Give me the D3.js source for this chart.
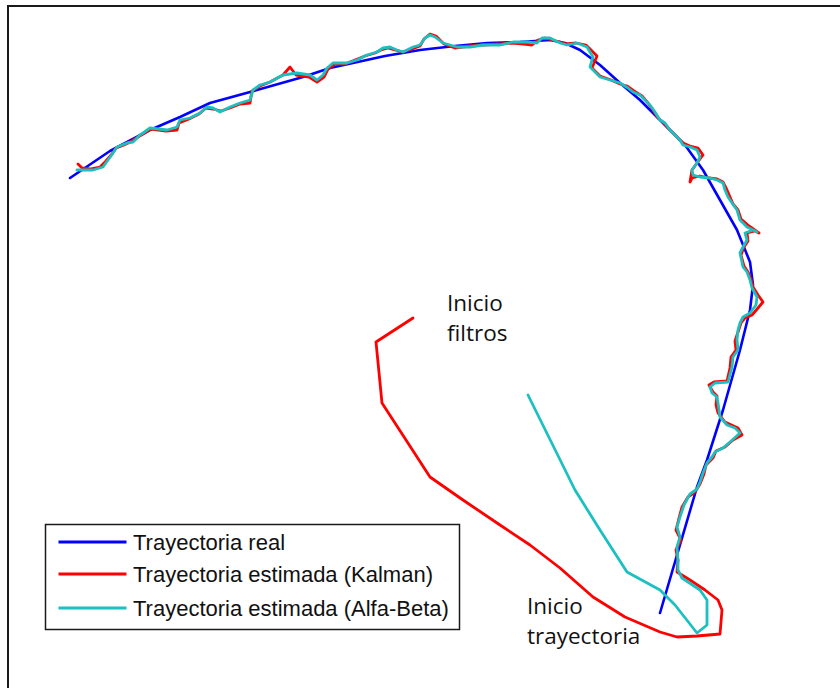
<!DOCTYPE html>
<html>
<head>
<meta charset="utf-8">
<script src="https://cdn.jsdelivr.net/npm/d3@7"></script>
<style>
  html, body { margin: 0; padding: 0; background: #fff; }
  svg { display: block; }
</style>
</head>
<body>
<svg id="chart" width="840" height="688"></svg>
<script>
// Trajectory positions in km: [x, y]
const trayectoriaReal = [
  [6.60,0.87],[6.97,2.13],[7.07,2.40],[7.23,2.90],[7.40,3.50],[7.50,3.90],[7.53,4.15],
  [7.50,4.38],[7.37,4.70],[7.20,5.00],[7.03,5.30],[6.85,5.55],[6.63,5.77],[6.40,6.00],
  [6.20,6.17],[6.00,6.35],[5.80,6.50],[5.65,6.57],[5.50,6.60],[5.20,6.58],[4.87,6.57],
  [4.55,6.54],[4.20,6.50],[3.85,6.44],[3.53,6.37],[3.30,6.32],[3.03,6.23],[2.57,6.10],
  [2.10,5.97],[1.80,5.83],[1.50,5.70],[1.10,5.49],[0.70,5.22]
];

const estimadaKalman = [
  [4.13,3.82],[3.76,3.58],[3.82,2.97],[4.30,2.23],[4.63,2.00],[5.00,1.75],[5.30,1.55],
  [5.60,1.32],[5.93,1.03],[6.25,0.83],[6.60,0.68],[6.77,0.63],[6.97,0.64],[7.20,0.66],
  [7.22,0.90],[7.18,1.00],[7.05,1.10],[6.90,1.20],[6.77,1.28],[6.78,1.40],[6.76,1.50],
  [6.81,1.60],[6.76,1.70],[6.79,1.82],[6.82,1.93],[6.88,2.03],[6.95,2.08],[7.00,2.16],
  [7.04,2.26],[7.06,2.35],[7.13,2.42],[7.16,2.49],[7.25,2.53],[7.33,2.60],[7.42,2.65],
  [7.38,2.72],[7.25,2.78],[7.18,2.87],[7.16,2.95],[7.17,3.04],[7.13,3.08],[7.09,3.15],
  [7.14,3.18],[7.27,3.19],[7.30,3.32],[7.31,3.43],[7.36,3.50],[7.35,3.59],[7.38,3.68],
  [7.41,3.77],[7.45,3.82],[7.52,3.85],[7.58,3.92],[7.63,3.98],[7.58,4.05],[7.53,4.13],
  [7.51,4.21],[7.48,4.28],[7.44,4.34],[7.41,4.45],[7.44,4.53],[7.48,4.59],[7.47,4.67],
  [7.55,4.69],[7.59,4.67],[7.49,4.74],[7.41,4.81],[7.38,4.90],[7.33,4.96],[7.30,5.03],
  [7.27,5.10],[7.23,5.18],[7.17,5.21],[7.09,5.22],[7.00,5.24],[6.92,5.22],[6.90,5.18],
  [6.92,5.30],[6.97,5.37],[7.03,5.45],[6.98,5.52],[6.90,5.54],[6.83,5.57],[6.79,5.61],
  [6.73,5.67],[6.68,5.72],[6.63,5.78],[6.58,5.82],[6.53,5.90],[6.48,5.97],[6.42,6.04],
  [6.34,6.09],[6.27,6.14],[6.20,6.16],[6.11,6.20],[6.00,6.24],[5.92,6.32],[5.97,6.44],
  [5.86,6.55],[5.76,6.57],[5.66,6.56],[5.60,6.58],[5.52,6.60],[5.45,6.62],[5.38,6.60],
  [5.32,6.55],[5.24,6.56],[5.12,6.57],[5.00,6.56],[4.83,6.55],[4.70,6.54],[4.55,6.52],
  [4.44,6.56],[4.36,6.64],[4.30,6.66],[4.24,6.61],[4.20,6.54],[4.12,6.51],[4.03,6.48],
  [3.95,6.50],[3.88,6.52],[3.81,6.50],[3.75,6.47],[3.65,6.44],[3.55,6.40],[3.45,6.36],
  [3.35,6.36],[3.28,6.31],[3.24,6.23],[3.17,6.18],[3.09,6.23],[2.96,6.25],[2.90,6.33],
  [2.83,6.25],[2.70,6.18],[2.60,6.14],[2.52,6.09],[2.50,5.97],[2.40,5.96],[2.30,5.92],
  [2.21,5.89],[2.13,5.91],[2.06,5.92],[1.99,5.86],[1.89,5.81],[1.79,5.77],[1.77,5.70],
  [1.66,5.69],[1.51,5.71],[1.43,5.66],[1.38,5.63],[1.32,5.59],[1.24,5.55],[1.16,5.52],
  [1.12,5.46],[1.06,5.39],[1.00,5.33],[0.90,5.31],[0.82,5.32],[0.78,5.36]
];

const estimadaAlfaBeta = [
  [5.28,3.05],[5.75,2.10],[6.00,1.70],[6.27,1.28],[6.60,1.10],[6.75,0.95],[6.97,0.67],
  [7.07,0.75],[7.07,1.00],[7.00,1.10],[6.82,1.22],[6.78,1.30],[6.78,1.40],[6.77,1.53],
  [6.80,1.63],[6.77,1.73],[6.80,1.83],[6.84,1.95],[6.90,2.06],[6.97,2.11],[7.00,2.18],
  [7.03,2.27],[7.07,2.37],[7.12,2.43],[7.15,2.48],[7.23,2.52],[7.30,2.58],[7.40,2.67],
  [7.35,2.72],[7.27,2.75],[7.20,2.83],[7.18,2.97],[7.17,3.03],[7.12,3.07],[7.10,3.13],
  [7.15,3.17],[7.28,3.18],[7.32,3.33],[7.33,3.43],[7.38,3.50],[7.37,3.60],[7.38,3.70],
  [7.40,3.77],[7.43,3.83],[7.50,3.87],[7.56,3.95],[7.57,4.03],[7.52,4.12],[7.50,4.20],
  [7.47,4.28],[7.43,4.33],[7.40,4.47],[7.43,4.53],[7.47,4.60],[7.45,4.67],[7.53,4.70],
  [7.57,4.68],[7.47,4.73],[7.40,4.80],[7.37,4.90],[7.32,4.97],[7.28,5.03],[7.25,5.10],
  [7.23,5.17],[7.17,5.20],[7.10,5.22],[7.00,5.23],[6.93,5.25],[6.92,5.30],[6.97,5.37],
  [7.00,5.43],[6.97,5.50],[6.90,5.53],[6.83,5.55],[6.80,5.60],[6.75,5.65],[6.70,5.70],
  [6.65,5.77],[6.60,5.80],[6.55,5.88],[6.50,5.95],[6.45,6.00],[6.40,6.05],[6.33,6.08],
  [6.28,6.12],[6.20,6.17],[6.10,6.20],[6.00,6.23],[5.90,6.33],[5.93,6.43],[5.87,6.53],
  [5.77,6.57],[5.67,6.55],[5.60,6.57],[5.50,6.62],[5.42,6.62],[5.37,6.57],[5.27,6.58],
  [5.13,6.58],[5.00,6.55],[4.83,6.55],[4.70,6.53],[4.57,6.53],[4.43,6.57],[4.35,6.63],
  [4.30,6.65],[4.25,6.62],[4.20,6.55],[4.13,6.53],[4.03,6.48],[3.97,6.50],[3.90,6.53],
  [3.83,6.52],[3.77,6.48],[3.67,6.45],[3.57,6.40],[3.47,6.37],[3.33,6.37],[3.27,6.32],
  [3.23,6.25],[3.17,6.20],[3.10,6.25],[2.97,6.27],[2.83,6.25],[2.70,6.18],[2.60,6.15],
  [2.53,6.10],[2.50,6.00],[2.40,5.97],[2.30,5.93],[2.20,5.88],[2.13,5.92],[2.07,5.93],
  [2.00,5.87],[1.90,5.82],[1.80,5.80],[1.77,5.73],[1.67,5.70],[1.50,5.72],[1.43,5.67],
  [1.40,5.65],[1.33,5.58],[1.27,5.57],[1.17,5.53],[1.13,5.47],[1.08,5.40],[1.03,5.33],
  [0.93,5.30],[0.83,5.30],[0.77,5.30]
];

const seriesNames = ["Trayectoria real", "Trayectoria estimada (Kalman)", "Trayectoria estimada (Alfa-Beta)"];
const seriesColors = ["#0000ff", "#ff0000", "#1cc0c0"];

// Annotation labels anchored at data positions (km)
const annotations = [
  { lines: ["Inicio", "filtros"], at: [4.47, 3.89] },
  { lines: ["Inicio", "trayectoria"], at: [5.27, 0.86] }
];

const svg = d3.select("#chart");
const W = 840, H = 688;

const x = d3.scaleLinear().domain([0, 8.4]).range([0, 840]);
const y = d3.scaleLinear().domain([0, 7]).range([700, 0]);

svg.append("rect").attr("width", W).attr("height", H).attr("fill", "#fff");

// Figure frame
svg.append("rect")
  .attr("x", 8).attr("y", 6)
  .attr("width", 860).attr("height", 720)
  .attr("fill", "none").attr("stroke", "#1a1a1a").attr("stroke-width", 2);

const line = d3.line().x(d => x(d[0])).y(d => y(d[1]));

const series = [trayectoriaReal, estimadaKalman, estimadaAlfaBeta];
const widths = [2.6, 2.8, 2.8];

svg.append("g").selectAll("path")
  .data(series)
  .join("path")
  .attr("d", line)
  .attr("fill", "none")
  .attr("stroke", (d, i) => seriesColors[i])
  .attr("stroke-width", (d, i) => widths[i])
  .attr("stroke-linejoin", "round")
  .attr("stroke-linecap", "round");

// Annotations
const annG = svg.append("g")
  .attr("font-family", "'Open Sans', sans-serif")
  .attr("font-size", 22.5)
  .attr("fill", "#111");
annotations.forEach(a => {
  const t = annG.append("text")
    .attr("x", x(a.at[0]))
    .attr("y", y(a.at[1]));
  a.lines.forEach((s, i) => {
    t.append("tspan").attr("x", x(a.at[0])).attr("dy", i === 0 ? 0 : 30).text(s);
  });
});

// Legend
const legend = svg.append("g").attr("transform", "translate(45.5,524.5)");
legend.append("rect")
  .attr("width", 414).attr("height", 105)
  .attr("fill", "#fff").attr("stroke", "#1a1a1a").attr("stroke-width", 1.5);

const rowY = [17.5, 49.5, 83.5];
const rows = legend.selectAll("g.row")
  .data(seriesNames)
  .join("g")
  .attr("class", "row")
  .attr("transform", (d, i) => `translate(0,${rowY[i]})`);

rows.append("line")
  .attr("x1", 13).attr("x2", 81)
  .attr("y1", 0).attr("y2", 0)
  .attr("stroke", (d, i) => seriesColors[i])
  .attr("stroke-width", 3);

rows.append("text")
  .attr("x", 87.5)
  .attr("y", 7.5)
  .attr("font-family", "'Liberation Sans', Arial, sans-serif")
  .attr("font-size", 22)
  .attr("fill", "#111")
  .text(d => d);
</script>
</body>
</html>
